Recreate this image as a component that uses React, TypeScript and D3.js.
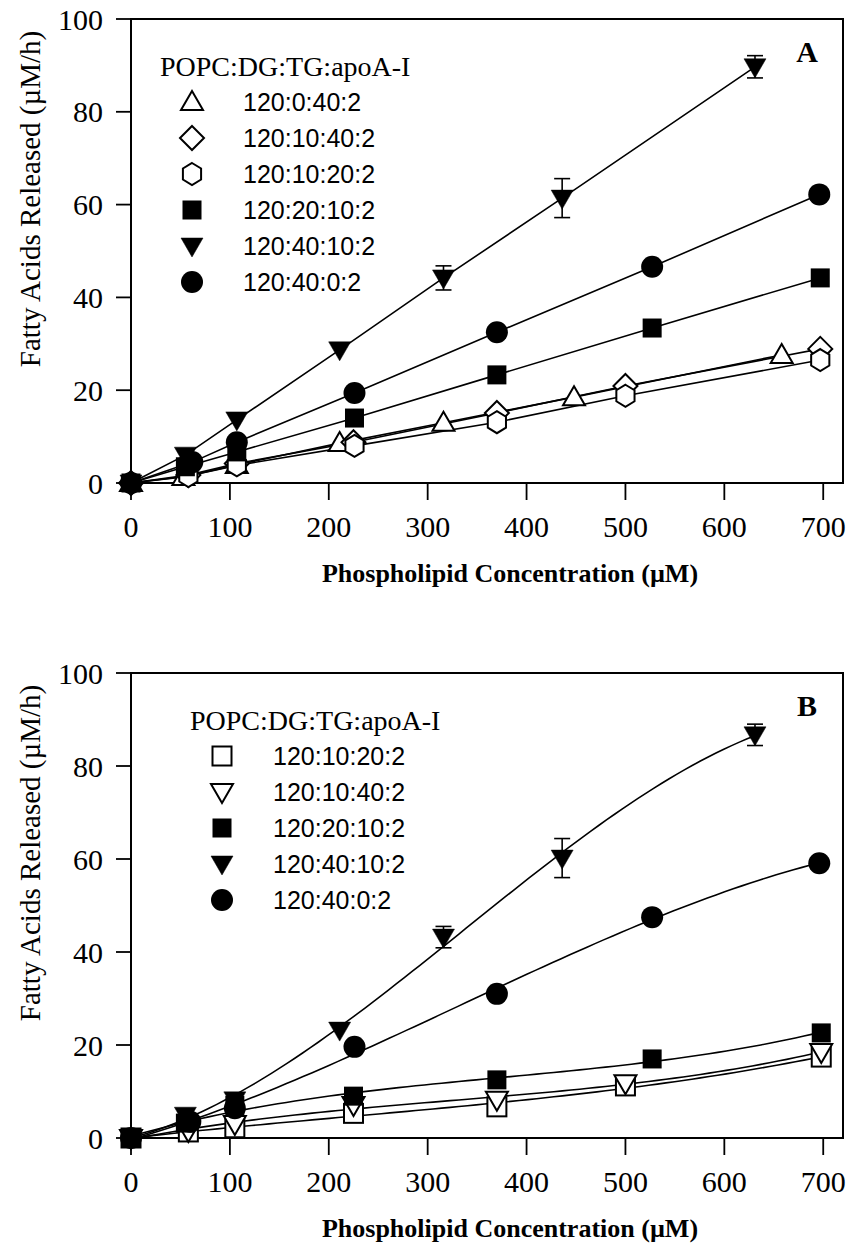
import React from "react";
import * as d3 from "d3";

// ---------- Tick labels ----------
const xTicks = [0, 100, 200, 300, 400, 500, 600, 700];
const yTicks = [0, 20, 40, 60, 80, 100];
const legendTitle = "POPC:DG:TG:apoA-I";
const xTitle = "Phospholipid Concentration (\u00B5M)";
const yTitle = "Fatty Acids Released (\u00B5M/h)";

// ---------- Panel A ----------
const aLabels = ["120:0:40:2", "120:10:40:2", "120:10:20:2", "120:20:10:2", "120:40:10:2", "120:40:0:2"];
const aShapes = ["triUp", "diamond", "hexagon", "squareFilled", "triDownFilled", "circleFilled"];
const aTriUpX = [0, 53, 107, 211, 316, 448, 658];
const aTriUpY = [0, 1.3, 3.9, 8.6, 13.0, 18.5, 27.6];
const aDiamondX = [0, 58, 107, 225, 370, 500, 697];
const aDiamondY = [0, 1.7, 4.2, 8.8, 15.1, 20.9, 28.9];
const aHexX = [0, 58, 107, 226, 370, 500, 697];
const aHexY = [0, 1.5, 3.8, 8.0, 13.1, 18.8, 26.5];
const aSquareX = [0, 55, 107, 226, 370, 527, 697];
const aSquareY = [0, 3.5, 6.7, 14.0, 23.3, 33.4, 44.2];
const aTriDownX = [0, 55, 107, 211, 316, 436, 631];
const aTriDownY = [0, 6.0, 13.6, 28.7, 44.2, 61.4, 89.7];
const aTriDownErr = [0, 0, 0, 0, 2.6, 4.2, 2.4];
const aCircleX = [0, 62, 107, 226, 370, 527, 696];
const aCircleY = [0, 4.5, 8.8, 19.4, 32.5, 46.6, 62.2];

// ---------- Panel B ----------
const bLabels = ["120:10:20:2", "120:10:40:2", "120:20:10:2", "120:40:10:2", "120:40:0:2"];
const bShapes = ["square", "triDown", "squareFilled", "triDownFilled", "circleFilled"];
const bSquareOpenX = [0, 58, 105, 225, 370, 500, 698];
const bSquareOpenY = [0, 1.3, 2.2, 5.3, 6.7, 11.2, 17.4];
const bTriOpenX = [0, 58, 105, 225, 370, 500, 698];
const bTriOpenY = [0, 1.5, 3.0, 7.1, 8.2, 11.8, 18.5];
const bSquareX = [0, 55, 105, 225, 370, 527, 698];
const bSquareY = [0, 3.2, 7.0, 9.0, 12.5, 17.0, 22.6];
const bTriDownX = [0, 55, 105, 211, 316, 436, 631];
const bTriDownY = [0, 4.9, 8.2, 23.2, 43.2, 60.2, 86.7];
const bTriDownErr = [0, 0, 0, 0, 2.3, 4.2, 2.3];
const bCircleX = [0, 60, 105, 226, 370, 527, 696];
const bCircleY = [0, 3.5, 6.4, 19.6, 31.0, 47.5, 59.1];

type Series = { shape: string; xs: number[]; ys: number[]; err?: number[] };

const seriesA: Series[] = [
  { shape: aShapes[0], xs: aTriUpX, ys: aTriUpY },
  { shape: aShapes[1], xs: aDiamondX, ys: aDiamondY },
  { shape: aShapes[2], xs: aHexX, ys: aHexY },
  { shape: aShapes[3], xs: aSquareX, ys: aSquareY },
  { shape: aShapes[4], xs: aTriDownX, ys: aTriDownY, err: aTriDownErr },
  { shape: aShapes[5], xs: aCircleX, ys: aCircleY },
];
const seriesB: Series[] = [
  { shape: bShapes[0], xs: bSquareOpenX, ys: bSquareOpenY },
  { shape: bShapes[1], xs: bTriOpenX, ys: bTriOpenY },
  { shape: bShapes[2], xs: bSquareX, ys: bSquareY },
  { shape: bShapes[3], xs: bTriDownX, ys: bTriDownY, err: bTriDownErr },
  { shape: bShapes[4], xs: bCircleX, ys: bCircleY },
];

// least-squares cubic fit through the data (for the smooth fitted curves of panel B)
function cubicFit(xs: number[], ys: number[]): (x: number) => number {
  const s = 700;
  const n = 4;
  const A = d3.range(n).map(() => d3.range(n + 1).map(() => 0));
  xs.forEach((xv, k) => {
    const u = xv / s;
    const p = d3.range(n).map((i) => Math.pow(u, i));
    for (let i = 0; i < n; i++) {
      for (let j = 0; j < n; j++) A[i][j] += p[i] * p[j];
      A[i][n] += p[i] * ys[k];
    }
  });
  for (let c = 0; c < n; c++) {
    let piv = c;
    for (let r = c + 1; r < n; r++) if (Math.abs(A[r][c]) > Math.abs(A[piv][c])) piv = r;
    [A[c], A[piv]] = [A[piv], A[c]];
    for (let r = 0; r < n; r++) {
      if (r === c) continue;
      const f = A[r][c] / A[c][c];
      for (let k = c; k <= n; k++) A[r][k] -= f * A[c][k];
    }
  }
  const coef = d3.range(n).map((i) => A[i][n] / A[i][i]);
  return (xv: number) => {
    const u = xv / s;
    return coef.reduce((acc, cf, i) => acc + cf * Math.pow(u, i), 0);
  };
}

function Marker({ shape, cx, cy }: { shape: string; cx: number; cy: number }) {
  const filled = shape.endsWith("Filled") || shape.startsWith("circle");
  const fill = filled ? "#000" : "#fff";
  const sw = 2;
  const t = `translate(${cx},${cy})`;
  if (shape === "circleFilled") return <circle cx={cx} cy={cy} r={11} fill="#000" />;
  if (shape === "square" || shape === "squareFilled")
    return <rect x={cx - 9.5} y={cy - 9.5} width={19} height={19} fill={fill} stroke="#000" strokeWidth={filled ? 0 : sw} />;
  if (shape === "triUp")
    return <path transform={t} d="M0,-11L11,8L-11,8Z" fill={fill} stroke="#000" strokeWidth={sw} />;
  if (shape === "triDown" || shape === "triDownFilled")
    return <path transform={t} d="M0,11L11,-8L-11,-8Z" fill={fill} stroke="#000" strokeWidth={filled ? 0.5 : sw} />;
  if (shape === "diamond")
    return <path transform={t} d="M0,-12L12,0L0,12L-12,0Z" fill={fill} stroke="#000" strokeWidth={sw} />;
  if (shape === "hexagon") {
    const pts = d3.range(6).map((i) => {
      const a = (Math.PI / 3) * i - Math.PI / 2;
      return [10.5 * Math.cos(a), 11 * Math.sin(a)];
    });
    return <path transform={t} d={"M" + pts.map((p) => p.join(",")).join("L") + "Z"} fill={fill} stroke="#000" strokeWidth={sw} />;
  }
  return null;
}

function Panel({
  top,
  plotH,
  series,
  labels,
  letter,
  smooth,
  legendX,
}: {
  top: number;
  plotH: number;
  series: Series[];
  labels: string[];
  letter: string;
  smooth: boolean;
  legendX: number;
}) {
  const left = 131;
  const right = 843;
  const bottom = top + plotH;
  const x = d3.scaleLinear().domain([0, 720]).range([left, right]);
  const y = d3.scaleLinear().domain([0, 100]).range([bottom, top]);
  const line = d3
    .line<[number, number]>()
    .x((d) => x(d[0]))
    .y((d) => y(d[1]));
  const curvePts = (s: Series): [number, number][] => {
    if (!smooth) return s.xs.map((v, j) => [v, s.ys[j]] as [number, number]);
    const f = cubicFit(s.xs, s.ys);
    const xmax = d3.max(s.xs) as number;
    return d3.range(0, 81).map((i) => {
      const xv = (xmax * i) / 80;
      return [xv, f(xv)] as [number, number];
    });
  };
  const serif = "'Liberation Serif', 'Times New Roman', serif";
  const sans = "'Liberation Sans', Arial, sans-serif";
  const legTop = top + 48;
  return (
    <g>
      <rect x={left} y={top} width={right - left} height={plotH} fill="none" stroke="#000" strokeWidth={2} />
      {yTicks.map((v) => (
        <g key={"y" + v}>
          <line x1={left - 15} x2={left} y1={y(v)} y2={y(v)} stroke="#000" strokeWidth={1.8} />
          <text x={103} y={y(v)} dy="0.35em" textAnchor="end" fontFamily={serif} fontSize={30}>
            {v}
          </text>
        </g>
      ))}
      {xTicks.map((v) => (
        <g key={"x" + v}>
          <line x1={x(v)} x2={x(v)} y1={bottom} y2={bottom + 17} stroke="#000" strokeWidth={1.8} />
          <text x={x(v)} y={bottom + 54} textAnchor="middle" fontFamily={serif} fontSize={30}>
            {v}
          </text>
        </g>
      ))}
      <text x={510} y={bottom + 99} textAnchor="middle" fontFamily={serif} fontWeight="bold" fontSize={26}>
        {xTitle}
      </text>
      <text
        transform={`translate(40,${top + 180}) rotate(-90)`}
        textAnchor="middle"
        fontFamily={serif}
        fontSize={29}
      >
        {yTitle}
      </text>
      {series.map((s, i) => (
        <path key={"l" + i} d={line(curvePts(s)) || ""} fill="none" stroke="#000" strokeWidth={1.6} />
      ))}
      {series.map((s, i) =>
        s.err
          ? s.err.map((e, j) =>
              e > 0 ? (
                <g key={"e" + i + "-" + j} stroke="#000" strokeWidth={1.6}>
                  <line x1={x(s.xs[j])} x2={x(s.xs[j])} y1={y(s.ys[j] + e)} y2={y(s.ys[j] - e)} />
                  <line x1={x(s.xs[j]) - 8} x2={x(s.xs[j]) + 8} y1={y(s.ys[j] + e)} y2={y(s.ys[j] + e)} />
                  <line x1={x(s.xs[j]) - 8} x2={x(s.xs[j]) + 8} y1={y(s.ys[j] - e)} y2={y(s.ys[j] - e)} />
                </g>
              ) : null
            )
          : null
      )}
      {series.map((s, i) =>
        s.xs.map((v, j) => <Marker key={"m" + i + "-" + j} shape={s.shape} cx={x(v)} cy={y(s.ys[j])} />)
      )}
      <text x={807} y={top + 43} textAnchor="middle" fontFamily={serif} fontWeight="bold" fontSize={30}>
        {letter}
      </text>
      <text x={legendX} y={legTop + 9} fontFamily={serif} fontSize={28}>
        {legendTitle}
      </text>
      {labels.map((lab, i) => (
        <g key={"lg" + i}>
          <Marker shape={series[i].shape} cx={legendX + 32} cy={legTop + 35 + i * 36} />
          <text x={legendX + 83} y={legTop + 35 + i * 36} dy="0.36em" fontFamily={sans} fontSize={25}>
            {lab}
          </text>
        </g>
      ))}
    </g>
  );
}

export default function App() {
  return (
    <svg width={846} height={1249} style={{ position: "absolute", left: 0, top: 0, background: "#fff" }}>
      <rect width={846} height={1249} fill="#fff" />
      <Panel top={19} plotH={464} series={seriesA} labels={aLabels} letter="A" smooth={false} legendX={160} />
      <Panel top={673} plotH={465} series={seriesB} labels={bLabels} letter="B" smooth={true} legendX={190} />
    </svg>
  );
}
